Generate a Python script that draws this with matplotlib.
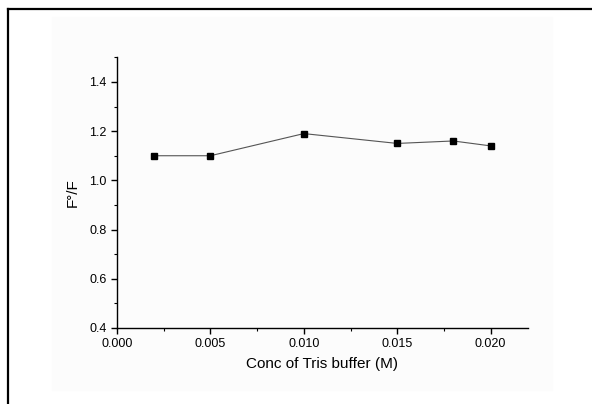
import matplotlib
matplotlib.use("Agg")
import matplotlib.pyplot as plt
from matplotlib.lines import Line2D
from matplotlib.patches import Rectangle
from matplotlib.ticker import MultipleLocator, FormatStrFormatter

plt.rcParams['font.family'] = ['Liberation Sans', 'DejaVu Sans']

# data
conc = [0.002, 0.005, 0.010, 0.015, 0.018, 0.020]
ratio = [1.10, 1.10, 1.19, 1.15, 1.16, 1.14]

fig = plt.figure(figsize=(5.92, 4.04), dpi=100)

# very faint panel behind the plot
fig.add_artist(Rectangle((52/592, 1-390/404), 500/592, 373/404,
                         transform=fig.transFigure, color='#fcfcfc', zorder=0))
# frame lines (top and left of the cropped picture)
fig.add_artist(Line2D([7.5/592, 1], [1-8.5/404, 1-8.5/404], color='black', lw=1.6))
fig.add_artist(Line2D([7.5/592, 7.5/592], [0, 1-8.5/404], color='black', lw=1.6))

ax = fig.add_axes([117/592, 1-328/404, 411/592, 270.7/404])
ax.patch.set_visible(False)

ax.plot(conc, ratio, color='#555555', lw=0.8, marker='s', markersize=5,
        markerfacecolor='black', markeredgecolor='black', zorder=3)

ax.set_xlim(0, 0.022)
ax.set_ylim(0.4, 1.5)
ax.xaxis.set_major_locator(MultipleLocator(0.005))
ax.xaxis.set_minor_locator(MultipleLocator(0.0025))
ax.yaxis.set_major_locator(MultipleLocator(0.2))
ax.yaxis.set_minor_locator(MultipleLocator(0.1))
ax.xaxis.set_major_formatter(FormatStrFormatter('%.3f'))
ax.yaxis.set_major_formatter(FormatStrFormatter('%.1f'))

for s in ['top', 'right']:
    ax.spines[s].set_visible(False)
for s in ['left', 'bottom']:
    ax.spines[s].set_linewidth(1.0)

ax.tick_params(which='major', direction='out', length=4, width=1, labelsize=9)
ax.tick_params(which='minor', direction='out', length=2.5, width=0.8)

ax.set_xlabel('Conc of Tris buffer (M)', fontsize=11, labelpad=5)
ax.set_ylabel('F\u00b0/F', fontsize=11, labelpad=7)

fig.savefig('out.png', dpi=100)
